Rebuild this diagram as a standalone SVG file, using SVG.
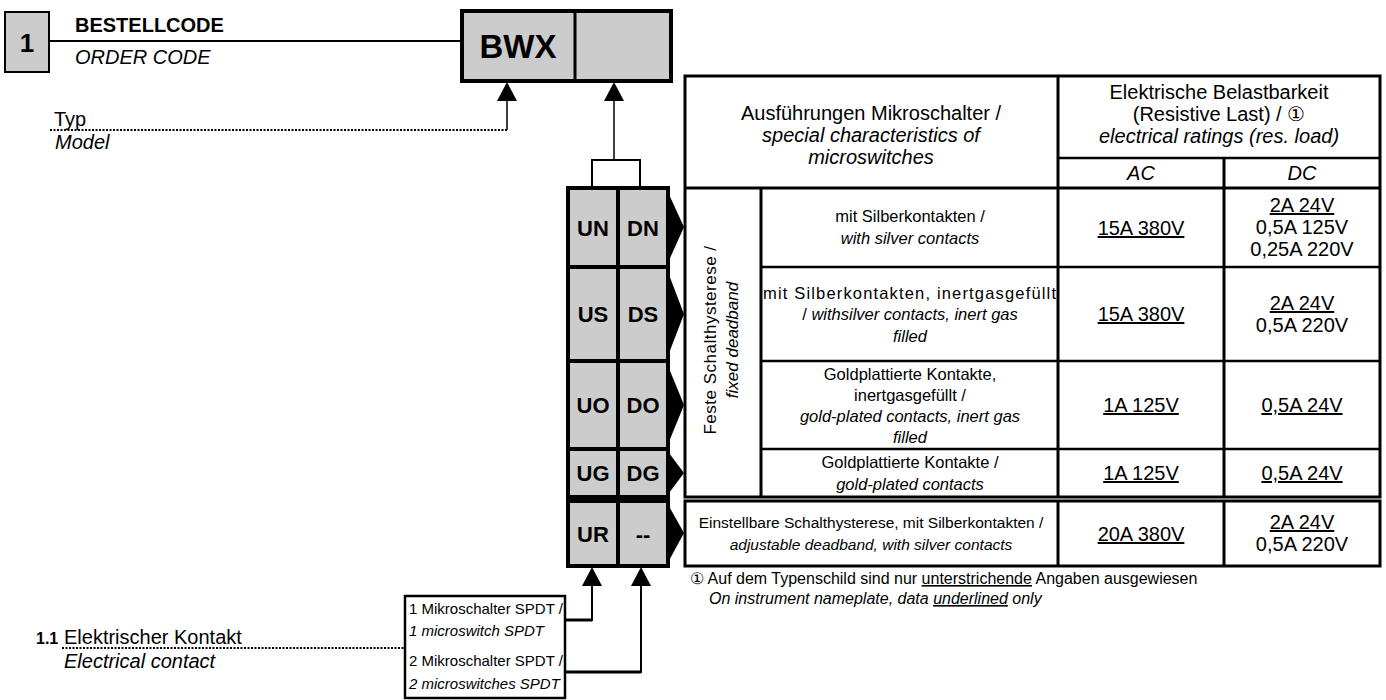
<svg xmlns="http://www.w3.org/2000/svg" width="1386" height="700" viewBox="0 0 1386 700">
<style>
text{font-family:"Liberation Sans",Arial,sans-serif;fill:#000}
.b{font-weight:bold}
.i{font-style:italic}
.hd{font-size:20px}
.ds{font-size:16.5px}
.vl{font-size:20px}
.cd{font-size:22px;font-weight:bold}
.m{text-anchor:middle}
.u{text-decoration:underline}
.grey{fill:#cccccc;stroke:#000;stroke-width:4}
.ln{stroke:#000;fill:none}
.tb{stroke:#000;stroke-width:3;fill:none}
.ti{stroke:#000;stroke-width:2.5;fill:none}
.ah{fill:#000}
</style>

<g id="title">
<rect x="5" y="12" width="44" height="60" fill="#cccccc" stroke="#000" stroke-width="2"/>
<text x="27" y="52" class="b m" font-size="26">1</text>
<text x="75" y="32" class="b" font-size="20">BESTELLCODE</text>
<text x="75" y="64" class="i" font-size="20">ORDER CODE</text>
</g>

<g id="bwx">
<rect x="462" y="11" width="209" height="70" class="grey"/>
<line x1="575" y1="11" x2="575" y2="81" stroke="#000" stroke-width="3"/>
<text x="518" y="58" class="b m" font-size="33">BWX</text>
</g>

<g id="typ">
<text x="54" y="126" font-size="20">Typ</text>
<text x="55" y="149" class="i" font-size="20">Model</text>
</g>

<g id="codes">
<rect x="568" y="188" width="100" height="309" class="grey"/>
<rect x="568" y="501" width="100" height="65" class="grey"/>
<line x1="618" y1="188" x2="618" y2="497" stroke="#000" stroke-width="4"/>
<line x1="618" y1="501" x2="618" y2="566" stroke="#000" stroke-width="4"/>
<line x1="568" y1="267" x2="668" y2="267" stroke="#000" stroke-width="4"/>
<line x1="568" y1="361" x2="668" y2="361" stroke="#000" stroke-width="4"/>
<line x1="568" y1="449" x2="668" y2="449" stroke="#000" stroke-width="4"/>
<text x="593" y="236" class="cd m">UN</text>
<text x="643" y="236" class="cd m">DN</text>
<text x="593" y="322" class="cd m">US</text>
<text x="643" y="322" class="cd m">DS</text>
<text x="593" y="413" class="cd m">UO</text>
<text x="643" y="413" class="cd m">DO</text>
<text x="593" y="481" class="cd m">UG</text>
<text x="643" y="481" class="cd m">DG</text>
<text x="593" y="542" class="cd m">UR</text>
<text x="643" y="542" class="cd m">--</text>
<polygon points="666,188 684,227 666,267" fill="#000"/>
<polygon points="666,267 684,314 666,361" fill="#000"/>
<polygon points="666,361 684,405 666,449" fill="#000"/>
<polygon points="666,449 684,473 666,497" fill="#000"/>
<polygon points="666,501 684,533 666,566" fill="#000"/>
</g>

<g id="table">
<rect x="685" y="76" width="695" height="421" class="tb"/>
<line x1="685" y1="188" x2="1380" y2="188" class="tb"/>
<line x1="1058" y1="76" x2="1058" y2="497" class="tb"/>
<line x1="1058" y1="158" x2="1380" y2="158" class="ti"/>
<line x1="1224" y1="158" x2="1224" y2="497" class="tb"/>
<line x1="761" y1="188" x2="761" y2="497" class="tb"/>
<line x1="761" y1="267" x2="1380" y2="267" class="ti"/>
<line x1="761" y1="361" x2="1380" y2="361" class="ti"/>
<line x1="761" y1="449" x2="1380" y2="449" class="ti"/>
<rect x="685" y="501" width="695" height="65" class="tb"/>
<line x1="1058" y1="501" x2="1058" y2="566" class="tb"/>
<line x1="1224" y1="501" x2="1224" y2="566" class="tb"/>

<text x="871" y="120" class="hd m">Ausführungen Mikroschalter /</text>
<text x="871" y="142" class="hd m i">special characteristics of</text>
<text x="871" y="164" class="hd m i">microswitches</text>
<text x="1219" y="99" class="hd m">Elektrische Belastbarkeit</text>
<text x="1219" y="121" class="hd m">(Resistive Last) / ①</text>
<text x="1219" y="143" class="hd m i">electrical ratings (res. load)</text>
<text x="1141" y="180" class="hd m i">AC</text>
<text x="1302" y="180" class="hd m i">DC</text>

<text transform="translate(716,340) rotate(-90)" class="m" font-size="17" letter-spacing="0.5">Feste Schalthysterese /</text>
<text transform="translate(738,340) rotate(-90)" class="m i" font-size="17">fixed deadband</text>

<text x="910" y="222" class="ds m">mit Silberkontakten /</text>
<text x="910" y="244" class="ds m i">with silver contacts</text>
<text x="1141" y="235" class="vl m u">15A 380V</text>
<text x="1302" y="212" class="vl m u">2A 24V</text>
<text x="1302" y="234" class="vl m">0,5A 125V</text>
<text x="1302" y="256" class="vl m">0,25A 220V</text>

<text x="763" y="299" class="ds" textLength="293" lengthAdjust="spacing">mit Silberkontakten, inertgasgefüllt</text>
<text x="910" y="320" class="ds m">/ <tspan class="i">withsilver contacts, inert gas</tspan></text>
<text x="910" y="342" class="ds m i">filled</text>
<text x="1141" y="321" class="vl m u">15A 380V</text>
<text x="1302" y="310" class="vl m u">2A 24V</text>
<text x="1302" y="332" class="vl m">0,5A 220V</text>

<text x="910" y="380" class="ds m">Goldplattierte Kontakte,</text>
<text x="910" y="401" class="ds m">inertgasgefüllt /</text>
<text x="910" y="422" class="ds m i">gold-plated contacts, inert gas</text>
<text x="910" y="443" class="ds m i">filled</text>
<text x="1141" y="412" class="vl m u">1A 125V</text>
<text x="1302" y="412" class="vl m u">0,5A 24V</text>

<text x="910" y="468" class="ds m">Goldplattierte Kontakte /</text>
<text x="910" y="490" class="ds m i">gold-plated contacts</text>
<text x="1141" y="480" class="vl m u">1A 125V</text>
<text x="1302" y="480" class="vl m u">0,5A 24V</text>

<text x="871" y="528" class="m" font-size="15.5">Einstellbare Schalthysterese, mit Silberkontakten /</text>
<text x="871" y="550" class="m i" font-size="15.5">adjustable deadband, with silver contacts</text>
<text x="1141" y="541" class="vl m u">20A 380V</text>
<text x="1302" y="529" class="vl m u">2A 24V</text>
<text x="1302" y="551" class="vl m">0,5A 220V</text>
</g>

<g id="footnote">
<text x="690" y="584" font-size="16">① Auf dem Typenschild sind nur <tspan class="u">unterstrichende</tspan> Angaben ausgewiesen</text>
<text x="709" y="604" class="i" font-size="16">On instrument nameplate, data <tspan class="u">underlined</tspan> only</text>
</g>

<g id="contact">
<text x="36" y="644" class="b" font-size="16">1.1</text>
<text x="64" y="644" font-size="20">Elektrischer Kontakt</text>
<text x="64" y="668" class="i" font-size="20">Electrical contact</text>
</g>

<g id="options">
<rect x="405" y="596" width="160" height="102" fill="#fff" stroke="#000" stroke-width="2.5"/>
<text x="409" y="614" font-size="15">1 Mikroschalter SPDT /</text>
<text x="409" y="636" class="i" font-size="15">1 microswitch SPDT</text>
<text x="409" y="666" font-size="15">2 Mikroschalter SPDT /</text>
<text x="409" y="689" class="i" font-size="15">2 microswitches SPDT</text>
</g>

<g id="connectors">
<line x1="49" y1="41" x2="462" y2="41" class="ln" stroke-width="2"/>
<path d="M50,130 H507" class="ln" stroke-width="2" stroke-dasharray="2 1.5"/>
<path d="M507,130 V100" class="ln" stroke-width="1.5"/>
<polygon points="507,82 497,101 517,101" class="ah"/>
<path d="M614,160 V100" class="ln" stroke-width="1.5"/>
<polygon points="614,82 604,101 624,101" class="ah"/>
<path d="M592,188 V160 H640 V188" class="ln" stroke-width="2"/>
<path d="M565,620 H592" class="ln" stroke-width="3"/>
<path d="M592,621 V585" class="ln" stroke-width="2"/>
<polygon points="592,567 582,586 602,586" class="ah"/>
<path d="M565,672 H641" class="ln" stroke-width="3"/>
<path d="M641,673 V585" class="ln" stroke-width="2"/>
<polygon points="641,567 631,586 651,586" class="ah"/>
<path d="M62,648 H405" class="ln" stroke-width="2" stroke-dasharray="2 1.5"/>
</g>
</svg>
